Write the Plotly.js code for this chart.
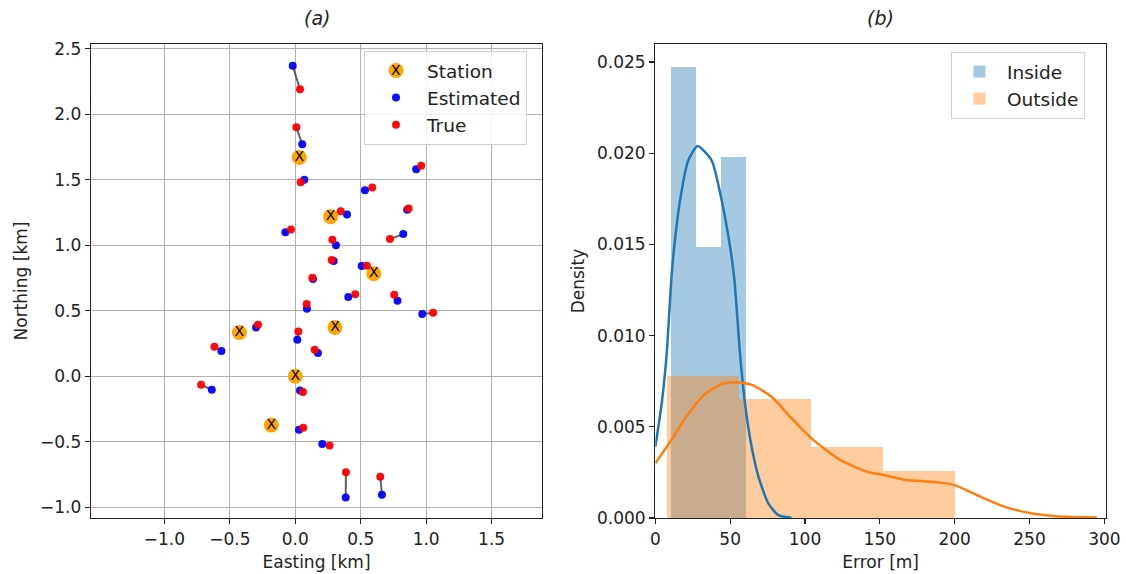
<!DOCTYPE html>
<html>
<head>
<meta charset="utf-8">
<script src="https://cdn.plot.ly/plotly-3.0.1.min.js"></script>
<style>html,body{margin:0;padding:0;background:#fff;}#chart{width:1126px;height:574px;}</style>
</head>
<body>
<div id="chart"></div>
<script>
// ---- Panel (a): station map ----
const stationE = [0.030, 0.270, 0.600, -0.427, 0.303, 0.000, -0.183];
const stationN = [1.670, 1.218, 0.782, 0.334, 0.373, 0.000, -0.373];
const estE = [-0.020, 0.053, 0.069, 0.924, 0.532, 0.395, 0.855, -0.076, 0.825, 0.311, 0.293, 0.507, 0.135, 0.405, 0.781, 0.089, 0.970, -0.300, 0.015, -0.565, 0.173, -0.638, 0.036, 0.028, 0.206, 0.385, 0.662];
const estN = [2.370, 1.770, 1.500, 1.580, 1.420, 1.235, 1.270, 1.100, 1.085, 1.000, 0.879, 0.841, 0.742, 0.605, 0.576, 0.515, 0.475, 0.373, 0.279, 0.192, 0.177, -0.103, -0.108, -0.408, -0.518, -0.925, -0.905];
const trueE = [0.036, 0.008, 0.041, 0.962, 0.588, 0.347, 0.866, -0.033, 0.723, 0.283, 0.278, 0.547, 0.130, 0.458, 0.756, 0.087, 1.053, -0.285, 0.023, -0.618, 0.148, -0.720, 0.059, 0.061, 0.262, 0.387, 0.649];
const trueN = [2.190, 1.900, 1.480, 1.607, 1.440, 1.260, 1.280, 1.120, 1.047, 1.042, 0.887, 0.843, 0.752, 0.625, 0.622, 0.551, 0.485, 0.393, 0.342, 0.225, 0.202, -0.065, -0.121, -0.393, -0.528, -0.732, -0.767];
const eastTickVals = [-1.0, -0.5, 0.0, 0.5, 1.0, 1.5];
const eastTickText = ["\u22121.0", "\u22120.5", "0.0", "0.5", "1.0", "1.5"];
const northTickVals = [-1.0, -0.5, 0.0, 0.5, 1.0, 1.5, 2.0, 2.5];
const northTickText = ["\u22121.0", "\u22120.5", "0.0", "0.5", "1.0", "1.5", "2.0", "2.5"];

// ---- Panel (b): error histograms + KDE ----
const insideEdges = [10.5, 27.0, 44.1, 60.6];
const insideDensity = [0.02474, 0.01484, 0.01977];
const outsideEdges = [8.0, 56.1, 104.2, 152.3, 200.0];
const outsideDensity = [0.00779, 0.00651, 0.00391, 0.00259];
const insideKdeX = [0, 4.3, 7.6, 10.9, 12.7, 16.5, 22.0, 28.3, 37.7, 44.4, 49.9, 52.8, 56.6, 59.9, 63.9, 68.8, 75.5, 82.2, 91.0];
const insideKdeY = [0.0039, 0.0063, 0.0090, 0.0133, 0.0149, 0.0174, 0.0196, 0.0204, 0.0196, 0.0174, 0.0149, 0.0131, 0.0090, 0.0063, 0.0041, 0.0023, 0.0008, 0.00016, 0.00002];
const outsideKdeX = [0, 10.9, 22.0, 33.2, 44.4, 53.2, 64.4, 77.7, 89.5, 104.5, 123.4, 141.2, 152.4, 167.9, 179.1, 190.2, 200.0, 214.7, 232.5, 250.3, 268.1, 295.0];
const outsideKdeY = [0.0030, 0.0043, 0.0057, 0.0068, 0.00735, 0.00745, 0.0073, 0.00665, 0.0056, 0.00435, 0.0032, 0.00254, 0.00236, 0.00208, 0.00202, 0.00194, 0.00180, 0.00126, 0.00064, 0.00027, 0.00010, 0.00003];
const errTickVals = [0, 50, 100, 150, 200, 250, 300];
const densTickVals = [0, 0.005, 0.010, 0.015, 0.020, 0.025];
const densTickText = ["0.000", "0.005", "0.010", "0.015", "0.020", "0.025"];

// build connecting segments from the pairs
const segX = [], segY = [];
for (let i = 0; i < estE.length; i++) {
  segX.push(estE[i], trueE[i], null);
  segY.push(estN[i], trueN[i], null);
}
function centers(edges) { const c = []; for (let i = 0; i < edges.length - 1; i++) c.push((edges[i] + edges[i + 1]) / 2); return c; }
function widths(edges) { const w = []; for (let i = 0; i < edges.length - 1; i++) w.push(edges[i + 1] - edges[i]); return w; }

const FONT = "DejaVu Sans, Arial, sans-serif";

const traces = [
  {type: 'scatter', mode: 'lines', x: segX, y: segY, xaxis: 'x', yaxis: 'y',
   line: {color: 'rgba(60,60,60,0.8)', width: 2}, showlegend: false, hoverinfo: 'skip'},
  {type: 'scatter', mode: 'markers', name: 'Station', x: stationE, y: stationN, xaxis: 'x', yaxis: 'y',
   marker: {color: '#ffa500', size: 15, line: {width: 0}}, legend: 'legend'},
  {type: 'scatter', mode: 'text', x: stationE, y: stationN, xaxis: 'x', yaxis: 'y',
   text: stationE.map(() => 'X'), textposition: 'middle center',
   textfont: {family: FONT, size: 14, color: '#000'}, showlegend: false, hoverinfo: 'skip'},
  {type: 'scatter', mode: 'markers', name: 'Estimated', x: estE, y: estN, xaxis: 'x', yaxis: 'y',
   marker: {color: '#0000ff', size: 8, opacity: 0.95}, legend: 'legend'},
  {type: 'scatter', mode: 'markers', name: 'True', x: trueE, y: trueN, xaxis: 'x', yaxis: 'y',
   marker: {color: '#ff0000', size: 8, opacity: 0.95}, legend: 'legend'},

  {type: 'bar', name: 'Inside', x: centers(insideEdges), width: widths(insideEdges), y: insideDensity,
   xaxis: 'x2', yaxis: 'y2', marker: {color: 'rgba(31,119,180,0.4)', line: {width: 0}}, legend: 'legend2'},
  {type: 'bar', name: 'Outside', x: centers(outsideEdges), width: widths(outsideEdges), y: outsideDensity,
   xaxis: 'x2', yaxis: 'y2', marker: {color: 'rgba(255,127,14,0.4)', line: {width: 0}}, legend: 'legend2'},
  {type: 'scatter', mode: 'lines', x: insideKdeX, y: insideKdeY, xaxis: 'x2', yaxis: 'y2',
   line: {color: '#1f77b4', width: 2.5, shape: 'spline', smoothing: 0.6}, showlegend: false, hoverinfo: 'skip'},
  {type: 'scatter', mode: 'lines', x: outsideKdeX, y: outsideKdeY, xaxis: 'x2', yaxis: 'y2',
   line: {color: '#ff7f0e', width: 2.5, shape: 'spline', smoothing: 0.7}, showlegend: false, hoverinfo: 'skip'}
];

const axBase = {
  showline: true, mirror: true, linecolor: '#222', linewidth: 1.3,
  ticks: 'outside', ticklen: 5, tickwidth: 1.2, tickcolor: '#222',
  zeroline: false, automargin: false,
  tickfont: {family: FONT, size: 17, color: '#222'}
};

const layout = {
  width: 1126, height: 574,
  margin: {l: 0, r: 0, t: 0, b: 0},
  paper_bgcolor: '#fff', plot_bgcolor: '#fff',
  font: {family: FONT, color: '#222'},
  barmode: 'overlay', bargap: 0,
  xaxis: Object.assign({}, axBase, {
    domain: [91 / 1126, 542 / 1126], range: [-1.561, 1.885],
    tickvals: eastTickVals, ticktext: eastTickText,
    showgrid: true, gridcolor: '#b0b0b0', gridwidth: 1.2,
    title: {text: 'Easting [km]', font: {family: FONT, size: 17, color: '#222'}, standoff: 8}
  }),
  yaxis: Object.assign({}, axBase, {
    domain: [1 - 518 / 574, 1 - 44 / 574], range: [-1.082, 2.536],
    tickvals: northTickVals, ticktext: northTickText,
    showgrid: true, gridcolor: '#b0b0b0', gridwidth: 1.2,
    title: {text: 'Northing [km]', font: {family: FONT, size: 17, color: '#222'}, standoff: 8}
  }),
  xaxis2: Object.assign({}, axBase, {
    domain: [655.3 / 1126, 1106 / 1126], range: [0, 301.1],
    tickvals: errTickVals, showgrid: false, anchor: 'y2',
    title: {text: 'Error [m]', font: {family: FONT, size: 17, color: '#222'}, standoff: 8}
  }),
  yaxis2: Object.assign({}, axBase, {
    domain: [1 - 518 / 574, 1 - 44 / 574], range: [0, 0.02599],
    tickvals: densTickVals, ticktext: densTickText, showgrid: false, anchor: 'x2',
    title: {text: 'Density', font: {family: FONT, size: 17, color: '#222'}, standoff: 8}
  }),
  legend: {
    x: 364 / 1126, y: 1 - 51 / 574, xanchor: 'left', yanchor: 'top',
    bgcolor: 'rgba(255,255,255,0.85)', bordercolor: '#d0d0d0', borderwidth: 1,
    font: {family: FONT, size: 18.5, color: '#222'}, itemwidth: 52,
    traceorder: 'normal', tracegroupgap: 8
  },
  legend2: {
    x: 951 / 1126, y: 1 - 52 / 574, xanchor: 'left', yanchor: 'top',
    bgcolor: 'rgba(255,255,255,0.85)', bordercolor: '#d0d0d0', borderwidth: 1,
    font: {family: FONT, size: 18.5, color: '#222'}, itemwidth: 45,
    traceorder: 'normal', tracegroupgap: 2
  },
  annotations: [
    {text: '<i>(a)</i>', xref: 'paper', yref: 'paper', x: 316.5 / 1126, y: 1 - 18 / 574,
     xanchor: 'center', yanchor: 'middle', showarrow: false, font: {family: FONT, size: 19, color: '#222'}},
    {text: '<i>(b)</i>', xref: 'paper', yref: 'paper', x: 880.7 / 1126, y: 1 - 18 / 574,
     xanchor: 'center', yanchor: 'middle', showarrow: false, font: {family: FONT, size: 19, color: '#222'}},
    {text: 'X', xref: 'paper', yref: 'paper', x: 396 / 1126, y: 1 - 70 / 574,
     xanchor: 'center', yanchor: 'middle', showarrow: false, font: {family: FONT, size: 14, color: '#000'}}
  ]
};

Plotly.newPlot('chart', traces, layout, {displayModeBar: false, staticPlot: true});
</script>
</body>
</html>
